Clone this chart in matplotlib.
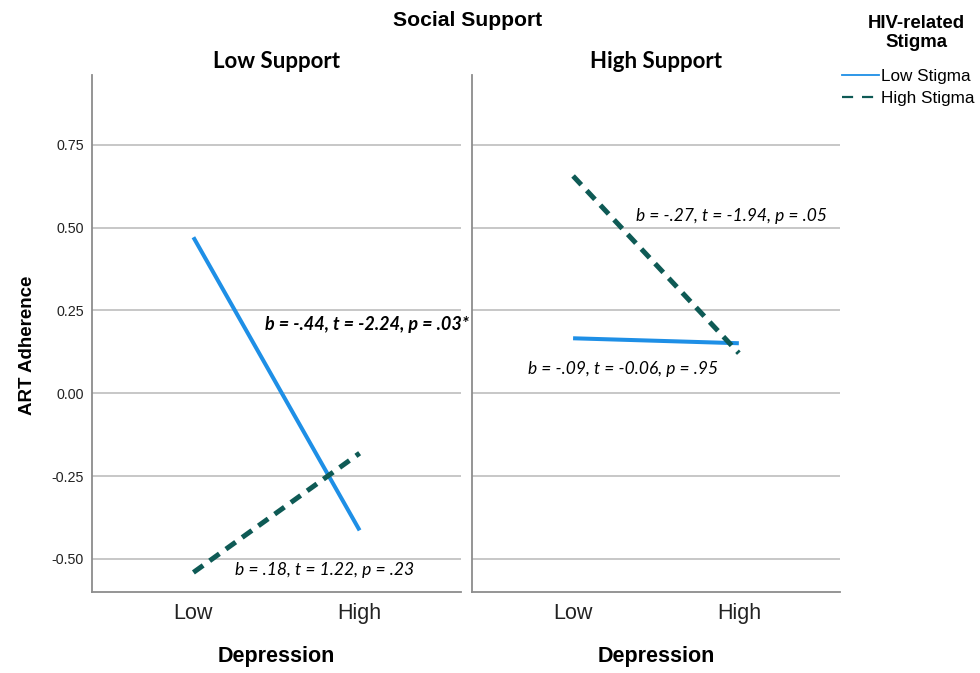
import numpy as np
import matplotlib.pyplot as plt
from matplotlib.lines import Line2D

# ---- data ----
depression = ["Low", "High"]
panels = ["Low Support", "High Support"]
low_stigma = [[0.471, -0.414], [0.166, 0.151]]
high_stigma = [[-0.541, -0.181], [0.656, 0.121]]
y_ticks = [-0.50, -0.25, 0.00, 0.25, 0.50, 0.75]
notes = [
    [("b = -.44, t = -2.24, p = .03*", 0.428, 0.208, "bold", 13),
     ("b = .18, t = 1.22, p = .23", 0.253, -0.535, "normal", 12.6)],
    [("b = -.27, t = -1.94, p = .05", 0.382, 0.535, "normal", 12.5),
     ("b = -.09, t = -0.06, p = .95", -0.273, 0.073, "normal", 12.5)],
]

blue = "#1E8FE6"
teal = "#0E5A55"
grid_c = "#BDBDBD"
spine_c = "#8C8C8C"
arial = "Liberation Sans"
calibri = "Lato"

fig = plt.figure(figsize=(9.8, 6.73), dpi=100)
ax_l = fig.add_axes([0.0939, 0.1204, 0.3765, 0.7682])
ax_r = fig.add_axes([0.4816, 0.1204, 0.3755, 0.7682])
x = np.arange(len(depression))

for i, ax in enumerate([ax_l, ax_r]):
    ax.plot(x, low_stigma[i], color=blue, lw=2.9, solid_capstyle="butt", zorder=3)
    ax.plot(x, high_stigma[i], color=teal, lw=3.6, dashes=(2.4, 1.6), zorder=3)
    ax.set_xlim(-0.61, 1.61)
    ax.set_ylim(-0.6, 0.961)
    ax.set_yticks(y_ticks)
    ax.yaxis.grid(True, color=grid_c, lw=1.2)
    ax.set_axisbelow(True)
    for s in ["top", "right"]:
        ax.spines[s].set_visible(False)
    for s in ["left", "bottom"]:
        ax.spines[s].set_color(spine_c)
        ax.spines[s].set_linewidth(1.3)
    ax.set_xticks(x)
    ax.set_xticklabels(depression, family=arial, fontsize=15.5, color="#222222")
    ax.tick_params(axis="both", length=0, pad=8)
    ax.tick_params(axis="y", pad=6)
    ax.set_xlabel("Depression", family=arial, fontsize=15.5, fontweight="bold", labelpad=16)
    ax.set_title(panels[i], family=calibri, fontsize=16, fontweight="bold", pad=5)
    for txt, tx, ty, w, fs in notes[i]:
        ax.text(tx, ty, txt, family=calibri, style="italic", fontweight=w,
                fontsize=fs, va="center", ha="left")

ax_l.set_yticklabels([f"{v:.2f}" for v in y_ticks], family=arial, fontsize=10.3, color="#222222")
ax_r.set_yticklabels([])
ax_l.set_ylabel("ART Adherence", family=arial, fontsize=13.5, fontweight="bold")
ax_l.yaxis.set_label_coords(-0.153, 0.478)

fig.text(0.477, 0.970, "Social Support", family=arial, fontsize=15.2,
         fontweight="bold", ha="center", va="center")

# legend title drawn as its own text, entries below it
fig.text(0.935, 0.951, "HIV-related\nStigma", family=arial, fontsize=13.4,
         fontweight="bold", ha="center", va="center", multialignment="center",
         linespacing=1.15)
handles = [Line2D([], [], color=blue, lw=1.3),
           Line2D([], [], color=teal, lw=1.6, dashes=(5, 4))]
leg = fig.legend(handles, ["Low Stigma", "High Stigma"],
                 loc="upper left", bbox_to_anchor=(0.859, 0.898), frameon=False,
                 prop={"family": arial, "size": 12.3}, handlelength=2.2,
                 handletextpad=0.1, labelspacing=0.45, borderaxespad=0, borderpad=0)

fig.savefig("out.png", dpi=100)
